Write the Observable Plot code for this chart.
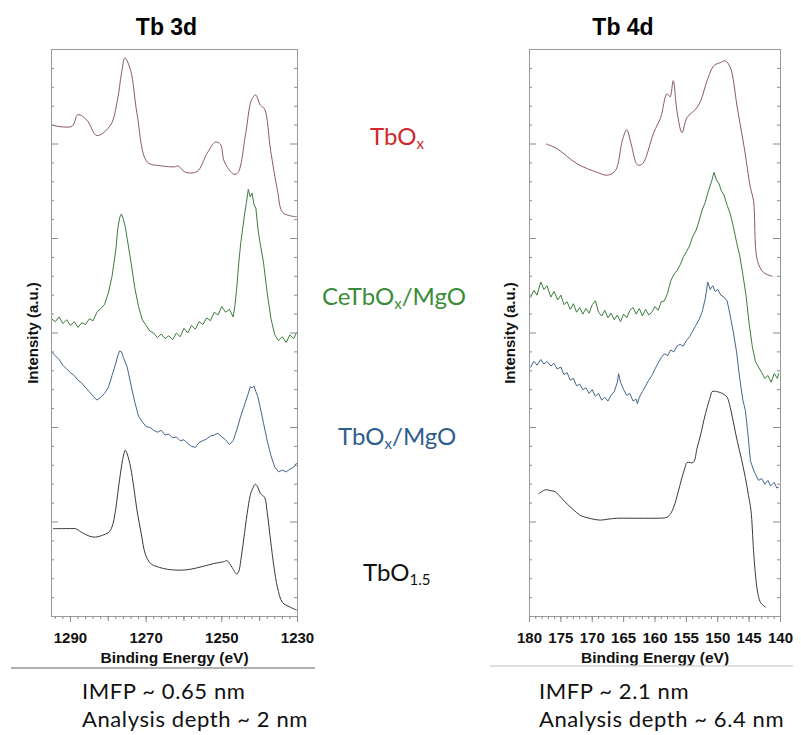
<!DOCTYPE html>
<html><head><meta charset="utf-8">
<script src="https://cdn.jsdelivr.net/npm/d3@7"></script>
<script src="https://cdn.jsdelivr.net/npm/@observablehq/plot@0.6"></script>
<style>
body{margin:0;background:#fff;}
#wrap{position:relative;width:801px;height:735px;overflow:hidden;}
#wrap svg{position:absolute;}
</style></head><body><div id="wrap"></div>
<script>
// ---------- Tb 3d panel (binding energy eV, intensity a.u. incl. stacking offset) ----------
const e3dTbOx = [1295,1291.8,1289.5,1288,1285.6,1283,1279.4,1277.6,1276.5,1275.6,1274.1,1272.4,1269.7,1266.2,1262.2,1261.6,1259.6,1256.5,1253.9,1251.7,1250.4,1249.3,1246.8,1245.7,1243.7,1242.2,1241.1,1239.8,1238.7,1237.1,1235.3,1234,1231.9,1230.3];
const v3dTbOx = [5.20,5.18,5.19,5.31,5.25,5.09,5.20,5.46,5.75,5.91,5.78,5.32,4.81,4.77,4.76,4.77,4.70,4.71,4.90,5.02,5.00,4.81,4.68,4.70,5.11,5.46,5.52,5.41,5.37,4.93,4.51,4.28,4.24,4.23];

const e3dCe = [1295,1294,1293,1292,1291,1290,1289,1288,1287,1286,1285,1284,1283,1282,1281,1280,1279,1278,1277.5,1277,1276.5,1276,1275.5,1275,1274,1273,1272,1271,1270,1269,1268,1267,1266,1265,1264,1263,1262,1261,1260,1259,1258,1257,1256,1255,1254,1253,1252,1251,1250,1249,1248,1247,1246.5,1246,1245.5,1245,1244.5,1244,1243.5,1243,1242.5,1242,1241.5,1241,1240.5,1240,1239,1238,1237,1236,1235,1234,1233,1232,1231,1230.3];
const v3dCe = [3.15,3.12,3.17,3.10,3.14,3.08,3.12,3.06,3.11,3.09,3.15,3.13,3.22,3.26,3.30,3.42,3.60,3.88,4.10,4.22,4.26,4.20,4.12,4.00,3.75,3.48,3.28,3.14,3.08,3.02,3.00,2.95,2.99,2.94,2.97,2.93,3.00,2.96,3.05,3.00,3.08,3.04,3.12,3.09,3.16,3.13,3.22,3.19,3.28,3.22,3.25,3.17,3.30,3.50,3.75,3.95,4.10,4.25,4.38,4.52,4.44,4.48,4.36,4.32,4.12,3.98,3.75,3.42,3.15,2.98,2.92,2.96,2.90,2.98,2.94,3.00];

const e3dMgO = [1295,1294,1293,1292,1291,1290,1289,1288,1287,1286,1285,1284,1283,1282,1281,1280,1279,1278,1277.5,1277,1276.5,1276,1275,1274,1273,1272,1271,1270,1269,1268,1267,1266,1265,1264,1263,1262,1261,1260,1259,1258,1257,1256,1255,1254,1253,1252,1251,1250,1249,1248,1247,1246,1245,1244,1243,1242.5,1242,1241.5,1241,1240.5,1240,1239,1238,1237,1236,1235,1234,1233,1232,1231,1230.3];
const v3dMgO = [2.80,2.76,2.72,2.66,2.62,2.58,2.55,2.50,2.47,2.42,2.38,2.33,2.29,2.32,2.36,2.42,2.55,2.68,2.76,2.81,2.80,2.74,2.64,2.45,2.27,2.12,2.06,2.01,2.00,1.97,1.95,1.97,1.92,1.93,1.89,1.90,1.86,1.87,1.83,1.80,1.79,1.84,1.86,1.88,1.91,1.92,1.94,1.90,1.87,1.82,1.86,1.98,2.12,2.24,2.36,2.43,2.42,2.44,2.38,2.33,2.24,2.05,1.86,1.70,1.58,1.53,1.55,1.53,1.56,1.58,1.62];

const e3dRef = [1294.5,1292,1290,1288.7,1287,1285,1283.4,1281.5,1279.9,1279,1278.1,1277.5,1276.8,1276,1275.5,1275,1274.1,1273.2,1272.4,1271.3,1270.2,1268.8,1266.5,1264.4,1261,1258.3,1255,1252.1,1249.5,1248.6,1247.3,1246.1,1245.5,1245,1244.2,1243.3,1242.5,1241.9,1241.1,1240.4,1239.8,1238.7,1238,1237.1,1236.2,1235.3,1234,1232,1230.3];
const v3dRef = [0.93,0.93,0.93,0.93,0.89,0.85,0.84,0.86,0.89,0.95,1.12,1.30,1.51,1.70,1.76,1.72,1.58,1.35,1.12,0.88,0.66,0.56,0.52,0.50,0.49,0.50,0.53,0.56,0.58,0.59,0.52,0.45,0.48,0.59,0.82,1.09,1.28,1.35,1.40,1.36,1.30,1.26,1.10,0.80,0.52,0.31,0.15,0.10,0.07];

// ---------- Tb 4d panel ----------
const e4dTbOx = [177.3,175.6,172.4,169.2,167.6,166.3,165.2,164.5,163.8,162.8,162.0,160.2,159.1,158.1,157.6,157.1,156.5,155.7,154.9,153.5,152.7,151.7,150.6,149.6,148.8,148.0,146.9,145.8,144.8,144.3,143.7,142.7,141.3];
const v4dTbOx = [5.00,4.95,4.79,4.70,4.67,4.72,5.04,5.15,5.00,4.78,4.79,5.12,5.28,5.53,5.50,5.67,5.35,5.12,5.28,5.37,5.46,5.67,5.83,5.86,5.88,5.81,5.39,4.97,4.54,4.40,3.77,3.64,3.60];

const e4dCe = [179.8,179.3,178.8,178.2,177.7,177.2,176.6,176.1,175.5,175,174.5,174,173.5,173,172.5,172,171.5,171,170.5,170,169.5,169,168.5,168,167.5,167,166.5,166,165.5,165,164.5,164,163.5,163,162.5,162,161.5,161,160.5,160,159.5,159,158.5,158,157.5,157,156.5,156,155.5,155,154.5,154,153.5,153,152.5,152,151.5,151,150.6,150.2,149.8,149.4,149,148.5,148,147.5,147,146.5,146,145.5,145,144.5,144,143.5,143,142.5,142,141.5,141,140.5,140.3];
const v4dCe = [3.38,3.45,3.40,3.54,3.46,3.50,3.38,3.44,3.35,3.40,3.30,3.33,3.25,3.31,3.22,3.27,3.20,3.26,3.21,3.30,3.34,3.22,3.18,3.24,3.16,3.21,3.14,3.19,3.12,3.20,3.16,3.24,3.27,3.20,3.26,3.18,3.25,3.19,3.22,3.28,3.24,3.33,3.34,3.42,3.55,3.62,3.66,3.72,3.80,3.86,3.92,4.02,4.08,4.18,4.30,4.38,4.50,4.60,4.70,4.62,4.58,4.50,4.46,4.35,4.26,4.12,3.96,3.82,3.62,3.40,3.10,2.86,2.70,2.64,2.58,2.52,2.55,2.48,2.57,2.52,2.57];

const e4dMgO = [179.8,179.3,178.8,178.2,177.7,177.2,176.6,176.1,175.6,175,174.5,174,173.5,173,172.5,172,171.5,171,170.5,170,169.5,169,168.5,168,167.5,167,166.5,166,165.8,165.5,165,164.5,164,163.5,163,162.8,162.5,162,161.5,161,160.5,160,159.5,159,158.5,158,157.5,157,156.5,156,155.5,155,154.5,154,153.5,153,152.5,152,151.6,151.2,150.8,150.4,150,149.5,149,148.5,148,147.5,147,146.5,146,145.6,145.2,144.8,144.3,143.8,143.5,143,142.5,142,141.6,141,140.6,140.3];
const v4dMgO = [2.64,2.70,2.66,2.72,2.67,2.70,2.65,2.68,2.62,2.64,2.56,2.58,2.50,2.52,2.44,2.46,2.40,2.42,2.36,2.40,2.33,2.36,2.29,2.32,2.28,2.34,2.38,2.48,2.57,2.48,2.40,2.34,2.36,2.28,2.30,2.25,2.32,2.38,2.44,2.50,2.55,2.62,2.68,2.74,2.78,2.76,2.82,2.80,2.86,2.88,2.86,2.92,2.96,3.02,3.08,3.14,3.22,3.36,3.54,3.46,3.50,3.44,3.46,3.40,3.38,3.34,3.18,3.00,2.80,2.52,2.29,2.18,1.94,1.65,1.55,1.48,1.44,1.46,1.40,1.44,1.38,1.42,1.36,1.37];

const e4dRef = [178.5,177.5,176.5,175.9,175,174,173,171.9,170.5,168.7,167.5,166,164,161.8,160,158.1,157.5,157,156.3,155.7,155.2,154.9,153.9,153.3,152.7,152.2,151.7,151.2,150.9,150.2,149.6,149,148.5,148,147.4,146.9,146.2,145.6,145.1,144.7,144.3,144,143.7,143.2,142.4];
const v4dRef = [1.30,1.34,1.33,1.32,1.26,1.19,1.13,1.07,1.04,1.02,1.03,1.04,1.04,1.04,1.04,1.05,1.09,1.16,1.32,1.47,1.58,1.63,1.63,1.78,1.93,2.08,2.21,2.32,2.38,2.38,2.37,2.35,2.32,2.21,2.02,1.86,1.66,1.47,1.28,1.12,0.70,0.45,0.28,0.15,0.10];

// ---------- labels / ticks ----------
const panelTitles = ["Tb 3d", "Tb 4d"];
const xLabel = "Binding Energy (eV)";
const yLabel = "Intensity (a.u.)";
const xTicks3d = [1290, 1270, 1250, 1230];
const xTicks4d = [180, 175, 170, 165, 160, 155, 150, 145, 140];
const seriesColors = {TbOx: "#8c5a5e", Ce: "#3d7b3d", MgO: "#46658c", Ref: "#3a3a3a"};
const notes3d = ["IMFP ~ 0.65 nm", "Analysis depth ~ 2 nm"];
const notes4d = ["IMFP ~ 2.1 nm", "Analysis depth ~ 6.4 nm"];

const toRows = (es, vs) => es.map((e, i) => ({e, v: vs[i]}));

function panel(o) {
  const W = o.width - o.ml - o.mr;
  const yMinor = d3.range(0.2, 5.9, 0.2).filter(v => Math.abs(v - Math.round(v)) > 0.01);
  const yMajor = [1, 2, 3, 4, 5];
  const marks = [];
  for (const s of o.series) marks.push(Plot.line(s.rows, {x: "e", y: "v", stroke: s.color, strokeWidth: 1, curve: s.smooth ? "catmull-rom" : "linear"}));
  marks.push(
    Plot.tickY(yMinor, {y: d => d, insetRight: W - 3, stroke: "#8a8a8a"}),
    Plot.tickY(yMinor, {y: d => d, insetLeft: W - 3, stroke: "#8a8a8a"}),
    Plot.tickY(yMajor, {y: d => d, insetRight: W - 7, stroke: "#8a8a8a"}),
    Plot.tickY(yMajor, {y: d => d, insetLeft: W - 7, stroke: "#8a8a8a"}),
    Plot.frame({stroke: "#9a9a9a"}),
    Plot.axisX(o.minor, {tickSize: 3, tickFormat: () => "", stroke: "#8a8a8a", label: null}),
    Plot.axisX(o.mid, {tickSize: 5, tickFormat: () => "", stroke: "#8a8a8a", label: null}),
    Plot.axisX(o.major, {tickSize: 6, tickFormat: () => "", stroke: "#8a8a8a", label: null}),
    Plot.text(o.major, {x: d => d, text: d => String(d), frameAnchor: "bottom", dy: 22, fontSize: 15, fontWeight: "bold", fill: "#111", lineAnchor: "middle", textAnchor: "middle"}),
    Plot.text([o.title], {text: d => d, frameAnchor: "top", dx: o.titleDx, dy: -22, fontSize: 23, fontWeight: "bold", fill: "#000", lineAnchor: "middle", textAnchor: "middle"}),
    Plot.text([xLabel], {text: d => d, frameAnchor: "bottom", dy: 42, fontSize: 15.5, fontWeight: "bold", fill: "#111", lineAnchor: "middle", textAnchor: "middle"}),
    Plot.text([yLabel], {text: d => d, frameAnchor: "left", dx: o.yDx, rotate: -90, fontSize: 15, fontWeight: "bold", fill: "#111", lineAnchor: "middle", textAnchor: "middle"})
  );
  const svg = Plot.plot({
    width: o.width, height: 680,
    marginLeft: o.ml, marginRight: o.mr, marginTop: 49, marginBottom: 64,
    x: {domain: o.domain, label: null},
    y: {domain: [0, 6], axis: null},
    style: {fontFamily: "'Liberation Sans', Arial, sans-serif", background: "transparent", overflow: "visible"},
    marks
  });
  svg.style.left = o.left + "px";
  svg.style.top = "0px";
  return svg;
}

const wrap = document.getElementById("wrap");
wrap.append(panel({
  title: panelTitles[0], width: 330, ml: 51, mr: 33, left: 0, titleDx: -8, yDx: -18,
  domain: [1295, 1230],
  major: xTicks3d, mid: [1280, 1260, 1240], minor: d3.range(1232, 1295, 2),
  series: [
    {rows: toRows(e3dTbOx, v3dTbOx), color: seriesColors.TbOx, smooth: true},
    {rows: toRows(e3dCe, v3dCe), color: seriesColors.Ce},
    {rows: toRows(e3dMgO, v3dMgO), color: seriesColors.MgO},
    {rows: toRows(e3dRef, v3dRef), color: seriesColors.Ref, smooth: true}
  ]
}));
wrap.append(panel({
  title: panelTitles[1], width: 311, ml: 39, mr: 21, left: 490, titleDx: -32, yDx: -19,
  domain: [180, 140],
  major: xTicks4d, mid: [], minor: d3.range(141, 180, 1),
  series: [
    {rows: toRows(e4dTbOx, v4dTbOx), color: seriesColors.TbOx, smooth: true},
    {rows: toRows(e4dCe, v4dCe), color: seriesColors.Ce},
    {rows: toRows(e4dMgO, v4dMgO), color: seriesColors.MgO},
    {rows: toRows(e4dRef, v4dRef), color: seriesColors.Ref, smooth: true}
  ]
}));

// overlay: sample labels, separators, notes
const ov = d3.select(wrap).append("svg").attr("width", 801).attr("height", 735)
  .style("left", "0px").style("top", "0px").style("pointer-events", "none")
  .style("font-family", "Lato, 'Open Sans', sans-serif");

const sampleLabels = [
  {parts: [["TbO", 0], ["x", 1]], x: 370, y: 145, color: "#d0282c"},
  {parts: [["CeTbO", 0], ["x", 1], ["/MgO", 0]], x: 322, y: 305, color: "#3a8b3a"},
  {parts: [["TbO", 0], ["x", 1], ["/MgO", 0]], x: 338, y: 445, color: "#2f5d8e"},
  {parts: [["TbO", 0], ["1.5", 1]], x: 363, y: 581, color: "#111"}
];
for (const l of sampleLabels) {
  const t = ov.append("text").attr("x", l.x).attr("y", l.y).attr("fill", l.color).attr("font-size", 24);
  let sub = false;
  for (const [s, isSub] of l.parts) {
    const ts = t.append("tspan").text(s);
    if (isSub && !sub) { ts.attr("font-size", 15).attr("dy", 4); sub = true; }
    else if (!isSub && sub) { ts.attr("dy", -4); sub = false; }
  }
}
ov.append("line").attr("x1", 11).attr("x2", 315).attr("y1", 668).attr("y2", 668).attr("stroke", "#b0b0b0").attr("stroke-width", 2);
ov.append("line").attr("x1", 490).attr("x2", 793).attr("y1", 666).attr("y2", 666).attr("stroke", "#d4d4d4").attr("stroke-width", 1.5);
notes3d.forEach((s, i) => ov.append("text").attr("x", 82).attr("y", 699 + i * 28).attr("font-size", 22).attr("letter-spacing", 0.6).attr("fill", "#111").text(s));
notes4d.forEach((s, i) => ov.append("text").attr("x", 539).attr("y", 699 + i * 28).attr("font-size", 22).attr("letter-spacing", 0.6).attr("fill", "#111").text(s));
</script>
</body></html>
